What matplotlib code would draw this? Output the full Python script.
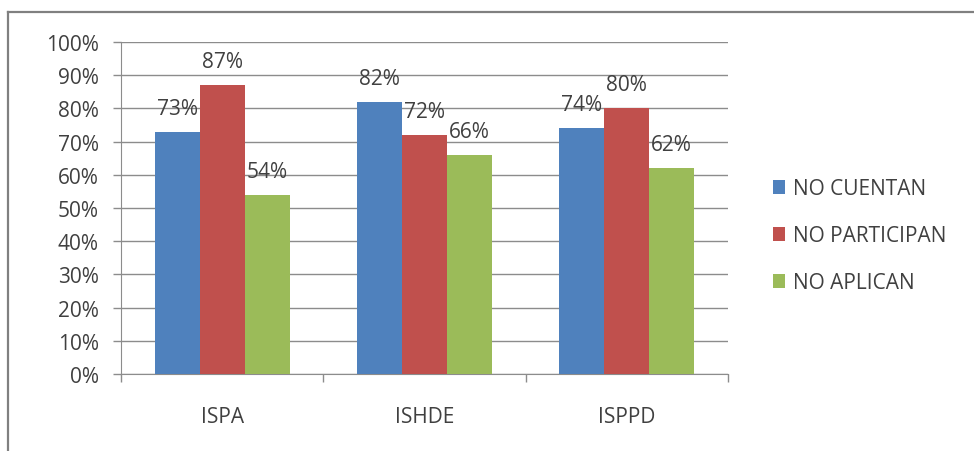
import matplotlib.pyplot as plt
from matplotlib.lines import Line2D
import numpy as np

plt.rcParams['font.family'] = ['Open Sans', 'DejaVu Sans']

categories = ['ISPA', 'ISHDE', 'ISPPD']
series_names = ['NO CUENTAN', 'NO PARTICIPAN', 'NO APLICAN']
no_cuentan = [73, 82, 74]
no_participan = [87, 72, 80]
no_aplican = [54, 66, 62]
yticks = list(range(0, 101, 10))

colors = ['#4F81BD', '#C0504D', '#9BBB59']
text_color = '#404040'
grid_color = '#8C8C8C'
fs = 15

fig = plt.figure(figsize=(9.74, 4.52), dpi=100)
ax = fig.add_axes([121 / 974, 1 - 375 / 452, (728 - 121) / 974, (375 - 43) / 452])

x = np.arange(len(categories))
width = 1 / 4.5  # gap width 150%
for i, (vals, name) in enumerate(zip([no_cuentan, no_participan, no_aplican], series_names)):
    pos = x + (i - 1) * width
    ax.bar(pos, vals, width, color=colors[i], label=name, zorder=3)
    for p, v in zip(pos, vals):
        ax.annotate('%d%%' % v, (p, v), xytext=(0, 17), textcoords='offset points',
                    ha='center', va='center', fontsize=fs, color=text_color, zorder=4)

ax.set_xlim(-0.5, 2.5)
ax.set_ylim(0, 100)
ax.set_yticks(yticks)
ax.set_yticklabels(['%d%%' % t for t in yticks], fontsize=fs, color=text_color)
ax.yaxis.grid(True, color=grid_color, linewidth=1, zorder=0)
ax.tick_params(axis='y', length=6, width=1, color=grid_color, pad=10)

ax.set_xticks(x)
ax.set_xticklabels(categories, fontsize=fs, color=text_color)
ax.set_xticks([-0.5, 0.5, 1.5, 2.5], minor=True)
ax.tick_params(axis='x', which='major', length=0, pad=23)
ax.tick_params(axis='x', which='minor', length=6, width=1, color=grid_color)

for side in ['top', 'right']:
    ax.spines[side].set_visible(False)
ax.spines['left'].set_color(grid_color)
ax.spines['bottom'].set_color(grid_color)

leg = fig.legend(loc='center left', bbox_to_anchor=(0.774, 0.476), frameon=False,
                 fontsize=fs, handlelength=0.6, handleheight=0.6, handletextpad=0.4,
                 labelspacing=1.25)
for t in leg.get_texts():
    t.set_color(text_color)

# outer chart frame
fig.add_artist(Line2D([8 / 974, 1], [1 - 13 / 452] * 2, color='#808080', linewidth=1.6))
fig.add_artist(Line2D([8 / 974] * 2, [0, 1 - 13 / 452], color='#808080', linewidth=1.6))

fig.savefig('out.png', dpi=100)
